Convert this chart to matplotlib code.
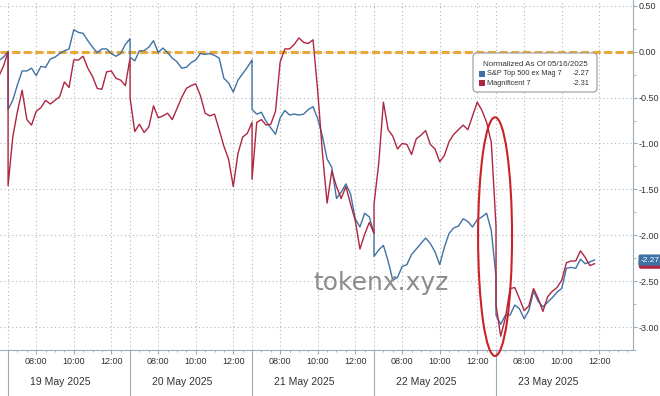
import matplotlib
matplotlib.use("Agg")
import matplotlib.pyplot as plt
import matplotlib.transforms as mtransforms
from matplotlib.patches import Ellipse, FancyBboxPatch, Rectangle
import numpy as np

plt.rcParams["font.family"] = ["Liberation Sans", "DejaVu Sans"]

# 15 minute bars, one list per trading day (first list = tail of 16 May)
days = ["16 May 2025", "19 May 2025", "20 May 2025", "21 May 2025", "22 May 2025", "23 May 2025"]
first_bar = [24, 0, 0, 0, 0, 0]

sp_ex_mag7 = [
    [-0.10, -0.06, 0.00],
    [-0.63, -0.53, -0.36, -0.21, -0.21, -0.18, -0.26, -0.16, -0.17, -0.08, -0.06, -0.02, 0.01, 0.03,
     0.24, 0.21, 0.20, 0.12, 0.05, -0.01, 0.03, 0.03, -0.02, -0.05, -0.02, 0.08, 0.14],
    [-0.06, -0.10, 0.01, 0.01, 0.05, 0.12, -0.01, 0.04, -0.01, -0.07, -0.11, -0.18, -0.17, -0.12,
     -0.09, -0.02, -0.03, -0.02, -0.04, -0.07, -0.29, -0.34, -0.44, -0.31, -0.24, -0.17, -0.09],
    [-0.63, -0.68, -0.66, -0.76, -0.83, -0.90, -0.72, -0.64, -0.69, -0.68, -0.69, -0.68, -0.63, -0.60,
     -0.73, -0.92, -1.17, -1.26, -1.60, -1.53, -1.44, -1.55, -1.82, -1.91, -1.76, -1.80, -1.98],
    [-2.23, -2.16, -2.11, -2.28, -2.49, -2.46, -2.34, -2.32, -2.21, -2.15, -2.09, -2.03, -2.09, -2.18,
     -2.32, -2.13, -1.98, -1.92, -1.90, -1.82, -1.85, -1.91, -1.83, -1.80, -1.76, -1.95, -2.45],
    [-2.87, -2.97, -2.87, -2.87, -2.76, -2.80, -2.91, -2.82, -2.61, -2.72, -2.78, -2.73, -2.68, -2.62,
     -2.58, -2.36, -2.35, -2.36, -2.26, -2.31, -2.29, -2.27],
]

mag7 = [
    [-0.27, -0.16, 0.00],
    [-1.46, -0.93, -0.65, -0.42, -0.74, -0.80, -0.65, -0.61, -0.53, -0.57, -0.53, -0.49, -0.33, -0.39,
     -0.09, -0.09, -0.05, -0.18, -0.27, -0.40, -0.41, -0.22, -0.21, -0.29, -0.31, -0.37, -0.07],
    [-0.50, -0.87, -0.79, -0.88, -0.82, -0.59, -0.72, -0.70, -0.67, -0.74, -0.62, -0.50, -0.40, -0.37,
     -0.35, -0.48, -0.67, -0.70, -0.68, -0.85, -1.03, -1.17, -1.47, -1.11, -0.93, -0.89, -0.77],
    [-1.39, -0.77, -0.74, -0.80, -0.79, -0.65, -0.11, 0.03, 0.03, 0.08, 0.15, 0.10, 0.09, 0.13,
     -0.43, -1.10, -1.65, -1.30, -1.47, -1.60, -1.47, -1.66, -1.84, -2.15, -1.99, -1.86, -1.98],
    [-1.66, -1.22, -0.55, -0.85, -0.92, -1.06, -1.00, -1.01, -1.12, -0.95, -0.91, -0.86, -1.01, -1.06,
     -1.20, -1.13, -0.98, -0.90, -0.85, -0.80, -0.85, -0.70, -0.55, -0.64, -0.77, -0.99, -1.90],
    [-2.76, -3.10, -2.90, -2.58, -2.57, -2.69, -2.82, -2.77, -2.58, -2.69, -2.83, -2.67, -2.61, -2.57,
     -2.49, -2.30, -2.28, -2.28, -2.17, -2.24, -2.33, -2.31],
]

legend_title = "Normalized As Of 05/16/2025"
names = ["S&P Top 500 ex Mag 7", "Magnificent 7"]
last_values = [-2.27, -2.31]
hour_ticks = [8, 10, 12]

BLUE = "#3f72a4"
RED = "#ae2640"
AXC = "#9aacb8"
TXT = "#333333"

session = 6.5   # 06:30 - 13:00
bar = 0.25


def times(d, n):
    return (d - 1) * session + (first_bar[d] + np.arange(n)) * bar


x_blue = np.concatenate([times(d, len(v)) for d, v in enumerate(sp_ex_mag7)])
y_blue = np.concatenate(sp_ex_mag7)
x_red = np.concatenate([times(d, len(v)) for d, v in enumerate(mag7)])
y_red = np.concatenate(mag7)

fig = plt.figure(figsize=(6.6, 3.96), dpi=100)
ax = fig.add_axes([0, 46 / 396, 633 / 660, 350 / 396])
ax.set_xlim(-0.43, 33.3)
ax.set_ylim(-3.23, 0.563)

for s in ["left", "top"]:
    ax.spines[s].set_visible(False)
for s in ["right", "bottom"]:
    ax.spines[s].set_color(AXC)

# y axis on the right
ax.yaxis.tick_right()
ax.set_yticks(np.arange(0.5, -3.01, -0.5))
ax.set_yticks(np.arange(0.25, -3.3, -0.5), minor=True)
ax.yaxis.set_major_formatter(matplotlib.ticker.FormatStrFormatter("%.2f"))
ax.tick_params(axis="y", which="major", length=3, color=AXC, labelsize=6.5, labelcolor=TXT, pad=1)
ax.tick_params(axis="y", which="minor", length=2, color=AXC)
ax.grid(axis="y", linestyle=(0, (1, 2.5)), color="#b5b5b5", lw=0.8)

# x axis: trading sessions side by side
xt, xl = [], []
for d in range(1, len(days)):
    for h in hour_ticks:
        xt.append((d - 1) * session + h - 6.5)
        xl.append("%02d:00" % h)
ax.set_xticks(xt)
ax.set_xticklabels(xl)
ax.set_xticks(np.arange(0, (len(days) - 1) * session + 1, 0.5), minor=True)
ax.tick_params(axis="x", which="major", length=3, color=AXC, labelsize=6.5, labelcolor=TXT, pad=2)
ax.tick_params(axis="x", which="minor", length=1.5, color=AXC)

for t in xt + [(d - 1) * session for d in range(1, len(days))]:
    ax.axvline(t, color="#b5b5b5", lw=0.8, ls=(0, (1, 2.5)), zorder=0)

trans = mtransforms.blended_transform_factory(ax.transData, ax.transAxes)
for d in range(1, len(days)):
    t0 = (d - 1) * session
    ax.plot([t0, t0], [0, -0.14], transform=trans, color=AXC, lw=0.8, clip_on=False)
    ax.text(t0 + 2.8, -0.092, days[d], transform=trans, ha="center", va="center",
            fontsize=7.5, color=TXT)

ax.axhline(0, color="#e9a83a", lw=2.2, ls=(0, (2.6, 1.2)), zorder=3)

ax.plot(x_blue, y_blue, color=BLUE, lw=1.0, zorder=4)
ax.plot(x_red, y_red, color=RED, lw=1.0, zorder=5)

# highlight of the overnight drop
ax.add_patch(Ellipse((25.95, -2.015), 1.81, 2.6, fill=False, ec="#cc2127", lw=1.5,
                     clip_on=False, zorder=6))

ax.text(19.9, -2.52, "tokenx.xyz", fontsize=18, color="#8c8c8c", ha="center", va="center",
        family="DejaVu Sans", zorder=7)


# legend box, placed in pixels from the top-left
def px(x, y):
    return x / 660, 1 - y / 396


bx, by = px(473, 92)
fig.patches.append(FancyBboxPatch((bx, by), 124 / 660, 39 / 396,
                                  boxstyle="round,pad=0,rounding_size=0.006", mutation_aspect=660 / 396,
                                  transform=fig.transFigure, fc="white", ec="#9a9a9a", lw=0.8, zorder=10))
fig.text(*px(535, 64), legend_title, ha="center", va="center", fontsize=5.8, color=TXT, zorder=11)
for i, (nm, c, v) in enumerate(zip(names, [BLUE, RED], last_values)):
    yy = 73.7 + i * 9.5
    rx, ry = px(479, yy + 3)
    fig.patches.append(Rectangle((rx, ry), 6 / 660, 6 / 396, transform=fig.transFigure,
                                 fc=c, ec="none", zorder=11))
    fig.text(*px(487, yy), nm, ha="left", va="center", fontsize=5.3, color=TXT, zorder=11)
    fig.text(*px(590, yy), "%.2f" % v, ha="right", va="center", fontsize=5.3, color=TXT, zorder=11)

# last value tags: the red one sits behind the blue one, only its edge shows
ytrans = mtransforms.blended_transform_factory(ax.transAxes, ax.transData)
ax.add_patch(FancyBboxPatch((1.008, last_values[1] - 0.055), 0.042, 0.11, transform=ytrans,
                            boxstyle="round,pad=0,rounding_size=0.004", mutation_aspect=25,
                            fc=RED, ec="none", clip_on=False, zorder=8))
ax.text(1.012, last_values[0], "%.2f" % last_values[0], transform=ytrans, ha="left", va="center",
        fontsize=6, color="white", zorder=9, clip_on=False,
        bbox=dict(boxstyle="round,pad=0.25,rounding_size=0.2", fc=BLUE, ec="none"))

fig.savefig("out.png", dpi=100, facecolor="white")
